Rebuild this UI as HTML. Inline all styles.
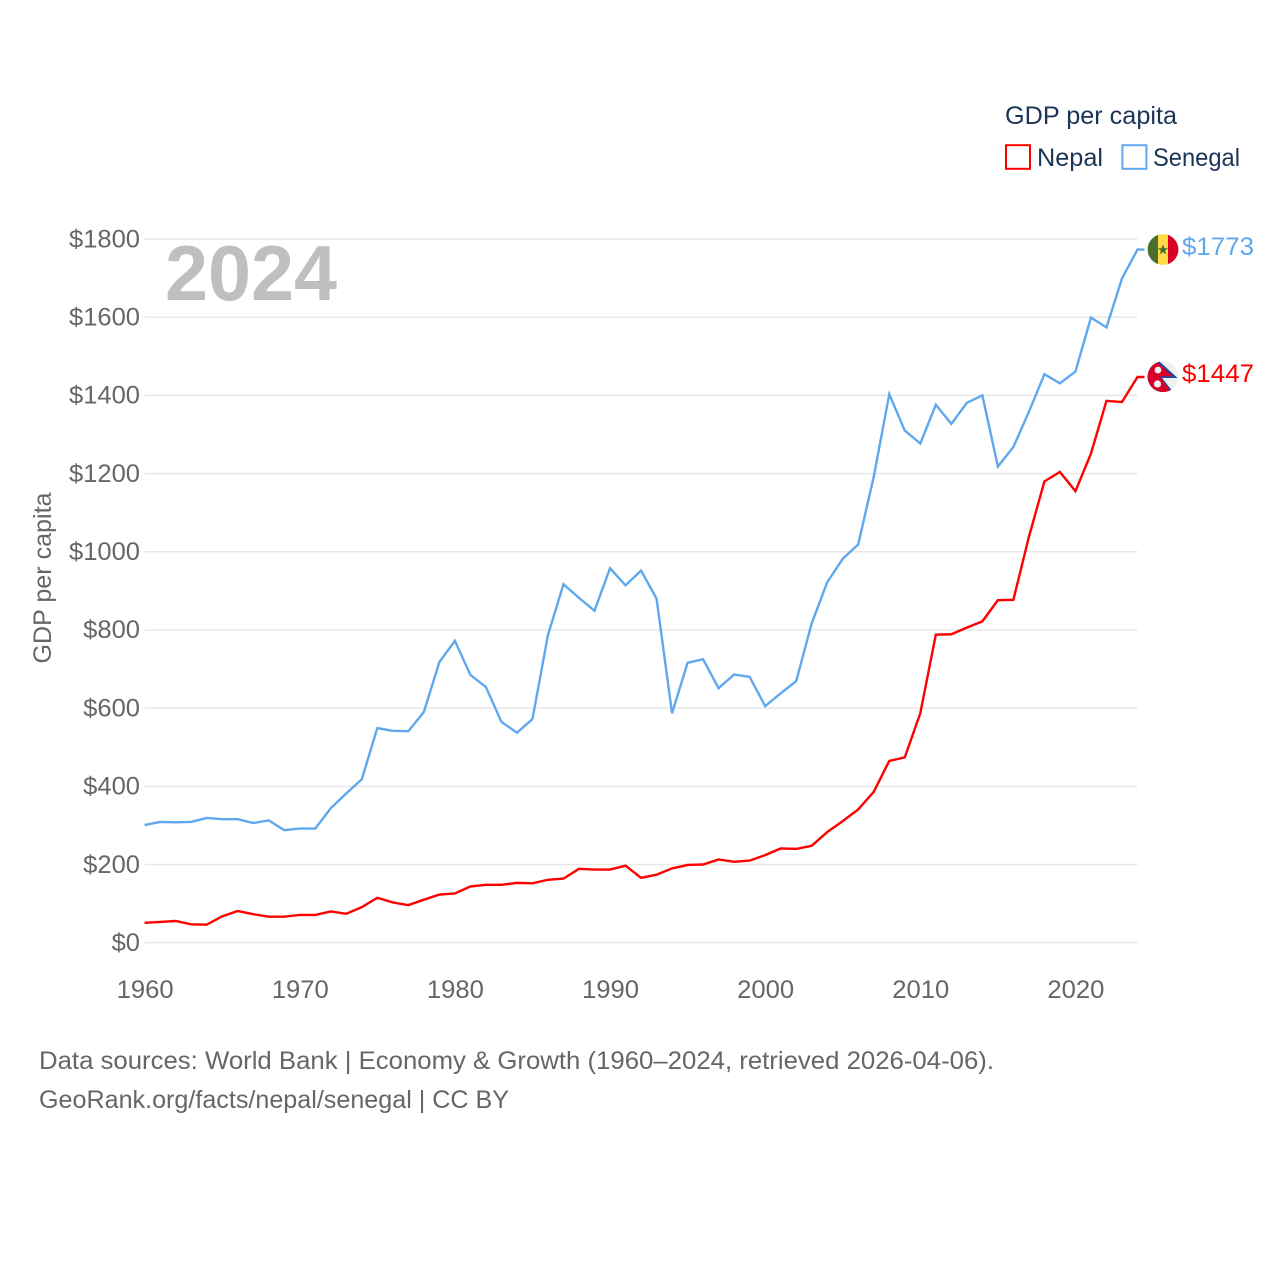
<!DOCTYPE html>
<html lang="en">
<head>
<meta charset="utf-8">
<title>GDP per capita: Nepal and Senegal</title>
<style>
html,body{margin:0;padding:0;background:#fff;}
svg{display:block;}
text{font-family:"Liberation Sans",sans-serif;}
.tick{font-size:25px;fill:#666;}
.legend{font-size:25px;fill:#1a3557;}
.foot{font-size:25px;fill:#666;}
</style>
</head>
<body>
<svg id="chart" xmlns="http://www.w3.org/2000/svg" width="1280" height="1280" viewBox="0 0 1280 1280">
  <rect width="1280" height="1280" fill="#fff"/>
  <g id="grid"></g>
  <g id="ylabels"></g>
  <g id="xlabels"></g>
  <text x="165" y="300" font-size="78" font-weight="700" fill="#bfbfbf" textLength="172" lengthAdjust="spacingAndGlyphs">2024</text>
  <text class="tick" transform="translate(51,578) rotate(-90)" text-anchor="middle" textLength="171" lengthAdjust="spacingAndGlyphs">GDP per capita</text>
  <g id="series"></g>

  <g>
    <text class="legend" x="1005" y="124" textLength="172" lengthAdjust="spacingAndGlyphs">GDP per capita</text>
    <rect x="1006" y="145.2" width="24" height="23.6" fill="none" stroke="#ff0000" stroke-width="2"/>
    <text class="legend" x="1037" y="166" textLength="66" lengthAdjust="spacingAndGlyphs">Nepal</text>
    <rect x="1122.4" y="145.2" width="24" height="23.6" fill="none" stroke="#60a8ee" stroke-width="2"/>
    <text class="legend" x="1153" y="166" textLength="87" lengthAdjust="spacingAndGlyphs">Senegal</text>
  </g>

  <defs>
    <clipPath id="clip-sn"><circle cx="1163" cy="249.5" r="15.4"/></clipPath>
    <clipPath id="clip-np"><circle cx="1163" cy="376.7" r="15.4"/></clipPath>
  </defs>
  <g clip-path="url(#clip-sn)">
    <rect x="1147" y="234" width="11" height="31" fill="#496e2d"/>
    <rect x="1158" y="234" width="10" height="31" fill="#ffda44"/>
    <rect x="1168" y="234" width="11" height="31" fill="#d80027"/>
    <polygon points="1163,244.5 1164.4,248.2 1168.2,248.2 1165.1,250.6 1166.3,254.4 1163,252.1 1159.7,254.4 1160.9,250.6 1157.8,248.2 1161.6,248.2" fill="#496e2d"/>
  </g>
  <text x="1182" y="255" font-size="25" fill="#60a8ee" textLength="72" lengthAdjust="spacingAndGlyphs">$1773</text>

  <g clip-path="url(#clip-np)">
    <rect x="1147" y="361" width="32" height="32" fill="#f0f0f0"/>
    <polygon points="1147,393 1147,361 1159,361 1177.5,378 1162,378 1174,393" fill="#0052b4"/>
    <polygon points="1147,393 1147,361 1158,362.5 1173.5,376.5 1160,376.5 1172,393" fill="#d80027"/>
    <circle cx="1158" cy="370" r="3.4" fill="#f0f0f0"/>
    <circle cx="1157.5" cy="384" r="3.6" fill="#f0f0f0"/>
  </g>
  <text x="1182" y="382" font-size="25" fill="#ff0000" textLength="72" lengthAdjust="spacingAndGlyphs">$1447</text>

  <g>
    <text class="foot" x="39" y="1069" textLength="955" lengthAdjust="spacingAndGlyphs">Data sources: World Bank | Economy &amp; Growth (1960–2024, retrieved 2026-04-06).</text>
    <text class="foot" x="39" y="1108" textLength="470" lengthAdjust="spacingAndGlyphs">GeoRank.org/facts/nepal/senegal | CC BY</text>
  </g>
</svg>
<script>
const firstYear = 1960;
const lastYear = 2024;
const yTicks = [0, 200, 400, 600, 800, 1000, 1200, 1400, 1600, 1800];
const xTicks = [1960, 1970, 1980, 1990, 2000, 2010, 2020];
const nepalValues = [51,53,55.5,47,46,67.5,81,73,66.5,66.5,71,71,80,74,91,115,103,96,110,123,126,144,148,148,153,152,161,164,189,187,187,197,166,174,190,199,200,213,207,210,224,241,240,248,283,311,341,386,465,474,587,788,789,806,822,876,877,1038,1180,1204,1155,1251,1386,1383,1447];
const senegalValues = [301,309,308,309,319,316,316,306,313,288,292,292,344,382,418,549,542,541,590,718,772,685,654,565,537,572,787,917,882,849,958,914,952,880,587,716,725,651,686,680,605,638,669,817,922,982,1019,1192,1403,1310,1277,1376,1327,1381,1400,1218,1268,1358,1454,1431,1461,1599,1574,1699,1773];

const NS = 'http://www.w3.org/2000/svg';
const plotLeft = 144.6, plotRight = 1137.5, plotBottom = 942.7, plotTop = 239;
const maxTick = 1800;
function xScale(year) { return plotLeft + (year - firstYear) * (plotRight - plotLeft) / (lastYear - firstYear); }
function yScale(value) { return plotBottom - value * (plotBottom - plotTop) / maxTick; }

const grid = document.getElementById('grid');
const ylabels = document.getElementById('ylabels');
const xlabels = document.getElementById('xlabels');
const series = document.getElementById('series');

yTicks.forEach(function (t) {
  const line = document.createElementNS(NS, 'line');
  
  
  line.setAttribute('x1', plotLeft);
  line.setAttribute('x2', plotRight);
  line.setAttribute('y1', yScale(t));
  line.setAttribute('y2', yScale(t));
  line.setAttribute('stroke', '#e8e8e8');
  line.setAttribute('stroke-width', '1.5');
  grid.appendChild(line);

  const label = document.createElementNS(NS, 'text');
  
  
  const str = '$' + t;
  label.textContent = str;
  label.setAttribute('class', 'tick');
  label.setAttribute('x', 140 - str.length * 14.2);
  label.setAttribute('y', yScale(t) + 8.3);
  label.setAttribute('textLength', str.length * 14.2);
  label.setAttribute('lengthAdjust', 'spacingAndGlyphs');
  ylabels.appendChild(label);
});

xTicks.forEach(function (t) {
  const label = document.createElementNS(NS, 'text');
  
  
  label.textContent = String(t);
  label.setAttribute('class', 'tick');
  label.setAttribute('x', xScale(t) - 28);
  label.setAttribute('y', 998);
  label.setAttribute('textLength', '57');
  label.setAttribute('lengthAdjust', 'spacingAndGlyphs');
  xlabels.appendChild(label);
});

function drawSeries(values, color, name) {
  const pts = values.map(function (v, i) { return xScale(firstYear + i) + ',' + yScale(v); });
  const lastValue = values[values.length - 1];
  pts.push((plotRight + 7) + ',' + yScale(lastValue));
  const poly = document.createElementNS(NS, 'polyline');
  
  
  poly.setAttribute('points', pts.join(' '));
  poly.setAttribute('fill', 'none');
  poly.setAttribute('stroke', color);
  poly.setAttribute('stroke-width', '2.4');
  poly.setAttribute('stroke-linejoin', 'miter');
  series.appendChild(poly);
}
drawSeries(senegalValues, '#60a8ee', 'senegal-line');
drawSeries(nepalValues, '#ff0000', 'nepal-line');
</script>
</body>
</html>
